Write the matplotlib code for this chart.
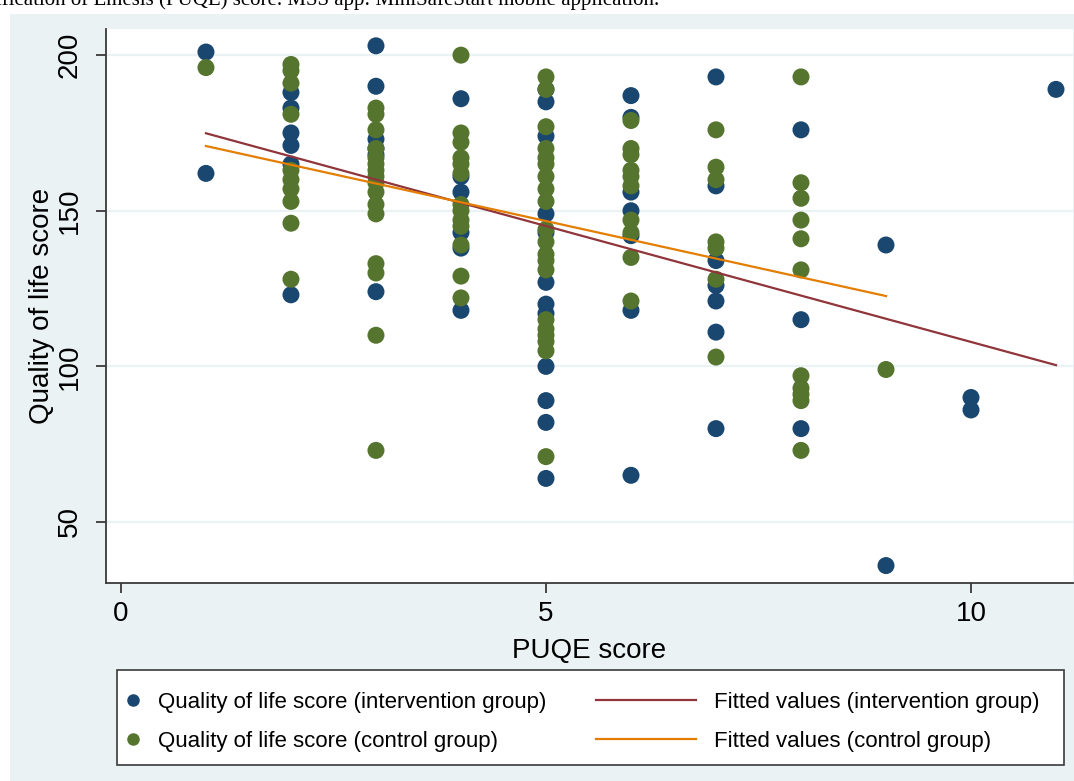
import matplotlib
matplotlib.use("Agg")
import matplotlib.pyplot as plt
from matplotlib.lines import Line2D
from matplotlib.patches import Rectangle

plt.rcParams['font.family'] = ['Liberation Sans', 'DejaVu Sans']

# PUQE score / quality of life score, intervention group
int_x = [1, 1,
         2, 2, 2, 2, 2, 2,
         3, 3, 3, 3, 3, 3,
         4, 4, 4, 4, 4, 4,
         5, 5, 5, 5, 5, 5, 5, 5, 5, 5, 5, 5,
         6, 6, 6, 6, 6, 6, 6,
         7, 7, 7, 7, 7, 7, 7,
         8, 8, 8,
         9, 9,
         10, 10,
         11]
int_y = [201, 162,
         188, 183, 175, 171, 165, 123,
         203, 190, 173, 170, 168, 124,
         186, 161, 156, 143, 138, 118,
         189, 185, 174, 149, 143, 127, 120, 117, 100, 89, 82, 64,
         187, 180, 156, 150, 142, 118, 65,
         193, 158, 134, 126, 121, 111, 80,
         176, 115, 80,
         139, 36,
         90, 86,
         189]

# control group
ctl_x = [1,
         2, 2, 2, 2, 2, 2, 2, 2, 2, 2,
         3, 3, 3, 3, 3, 3, 3, 3, 3, 3, 3, 3, 3, 3, 3, 3,
         4, 4, 4, 4, 4, 4, 4, 4, 4, 4, 4, 4, 4,
         5, 5, 5, 5, 5, 5, 5, 5, 5, 5, 5, 5, 5, 5, 5, 5, 5, 5, 5, 5,
         6, 6, 6, 6, 6, 6, 6, 6, 6, 6,
         7, 7, 7, 7, 7, 7, 7,
         8, 8, 8, 8, 8, 8, 8, 8, 8, 8, 8,
         9]
ctl_y = [196,
         197, 195, 191, 181, 163, 160, 157, 153, 146, 128,
         183, 181, 176, 170, 167, 165, 163, 161, 159, 156, 152, 149, 133, 130, 110, 73,
         200, 175, 172, 167, 165, 162, 152, 150, 147, 145, 139, 129, 122,
         193, 189, 177, 170, 167, 165, 161, 157, 153, 144, 140, 136, 134, 131, 115, 112, 110, 108, 105, 71,
         179, 170, 168, 163, 161, 158, 147, 143, 135, 121,
         176, 164, 160, 140, 138, 128, 103,
         193, 159, 154, 147, 141, 131, 97, 93, 91, 89, 73,
         99]

# fitted values
fit_int_x = [1, 11]
fit_int_y = [174.9, 100.4]
fit_ctl_x = [1, 9]
fit_ctl_y = [170.8, 122.6]

navy = '#1a476f'
green = '#55752f'
maroon = '#90353b'
orange = '#e37e00'
bg = '#eaf2f3'

fig = plt.figure(figsize=(10.74, 7.81), dpi=100, facecolor='white')
fig.patches.append(Rectangle((10 / 1074, 0), 1, 1 - 14 / 781, transform=fig.transFigure,
                             facecolor=bg, edgecolor='none', zorder=-10))
# caption of the source figure, cut at the top edge as in the reference
fig.text(-0.004, 1 - 5 / 781, 'ification of Emesis (PUQE) score. MSS app: MiniSafeStart mobile application.',
         family='Liberation Serif', fontsize=15, va='baseline', ha='left')

ax = fig.add_axes([106 / 1074, 1 - 583 / 781, (1073 - 106) / 1074, (583 - 29) / 781])
ax.set_facecolor('white')

ax.scatter(int_x, int_y, s=150, color=navy, edgecolors='none', zorder=3)
ax.scatter(ctl_x, ctl_y, s=150, color=green, edgecolors='none', zorder=3)
ax.plot(fit_int_x, fit_int_y, color=maroon, lw=1.6, zorder=4)
ax.plot(fit_ctl_x, fit_ctl_y, color=orange, lw=1.6, zorder=4)

ax.set_xlim(-0.176, 11.2)
ax.set_ylim(30.4, 208.4)
ax.set_xticks([0, 5, 10])
ax.set_yticks([50, 100, 150, 200])
ax.grid(axis='y', color=bg, lw=1.6, zorder=0)
ax.set_axisbelow(True)
for s in ['top', 'right']:
    ax.spines[s].set_visible(False)
for s in ['left', 'bottom']:
    ax.spines[s].set_color('#3a3a3a')
    ax.spines[s].set_linewidth(1.3)
ax.tick_params(axis='both', length=7, width=1.3, color='#3a3a3a', labelsize=20, pad=6)
ax.tick_params(axis='y', pad=10)
for lab in ax.get_yticklabels():
    lab.set_rotation(90)
    lab.set_va('center')
ax.set_xlabel('PUQE score', fontsize=20, labelpad=8)
ax.set_ylabel('Quality of life score', fontsize=20, labelpad=1)

# legend box
fig.patches.append(Rectangle((117 / 1074, 1 - 765 / 781), (1064 - 117) / 1074, 95 / 781,
                             transform=fig.transFigure, facecolor='white',
                             edgecolor='#3a3a3a', lw=1.2, zorder=1))
pts = [Line2D([], [], ls='none', marker='o', ms=8, color=navy),
       Line2D([], [], ls='none', marker='o', ms=8, color=green)]
lns = [Line2D([], [], color=maroon, lw=1.6),
       Line2D([], [], color=orange, lw=1.6)]
leg1 = fig.legend(pts, ['Quality of life score (intervention group)',
                        'Quality of life score (control group)'],
                  loc='center left', bbox_to_anchor=(122 / 1074, 1 - 722 / 781),
                  frameon=False, fontsize=16, handlelength=1.0, handletextpad=0.6,
                  borderpad=0, borderaxespad=0, labelspacing=0.8)
leg2 = fig.legend(lns, ['Fitted values (intervention group)',
                        'Fitted values (control group)'],
                  loc='center left', bbox_to_anchor=(596 / 1074, 1 - 722 / 781),
                  frameon=False, fontsize=16, handlelength=4.5, handletextpad=0.8,
                  borderpad=0, borderaxespad=0, labelspacing=0.8)
leg1.set_zorder(5)
leg2.set_zorder(5)

fig.savefig('out.png', dpi=100, facecolor=fig.get_facecolor())
